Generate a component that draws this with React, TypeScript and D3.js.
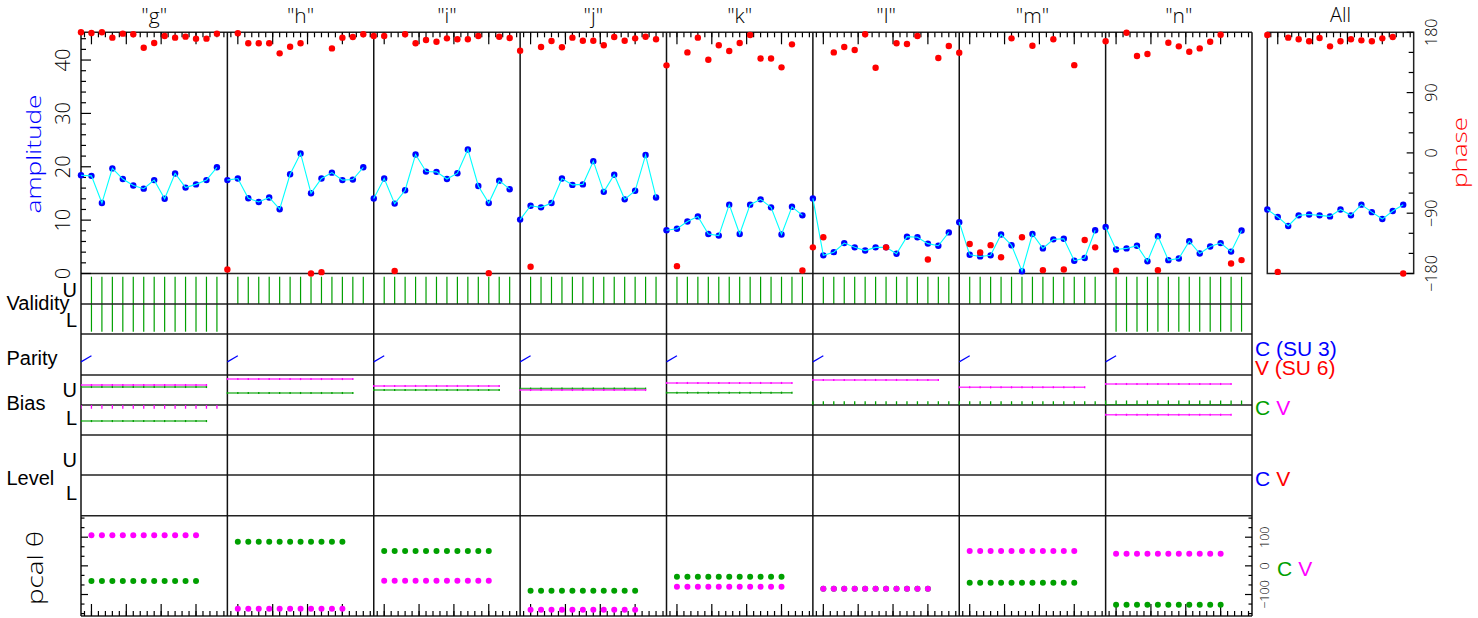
import React from "react";
import * as d3 from "d3";

// ---------- data ----------
const panelNames = ["g", "h", "i", "j", "k", "l", "m", "n"];
const sampleMinutes = [0, 3, 6, 9, 12, 15, 18, 21, 24, 27, 30, 33, 36, 39];
const panelStartMinute = 7;
const panelSpanMinutes = 42;

const ampG = [18.4, 18.3, 13.2, 19.7, 17.7, 16.5, 15.9, 17.5, 14.0, 18.75, 16.1, 16.7, 17.5, 19.9];
const ampH = [17.5, 17.8, 14.1, 13.4, 14.25, 12.05, 18.6, 22.5, 15.05, 17.8, 18.9, 17.5, 17.6, 19.9];
const ampI = [14.06, 17.8, 13.1, 15.6, 22.3, 19.1, 19.05, 17.7, 18.8, 23.25, 16.4, 13.2, 17.4, 15.8];
const ampJ = [10.1, 12.7, 12.4, 13.2, 17.8, 16.6, 16.7, 21.05, 15.3, 18.5, 13.9, 15.5, 22.2, 14.25];
const ampK = [8.1, 8.4, 9.75, 10.7, 7.4, 7.1, 12.9, 7.4, 12.9, 13.9, 12.4, 7.3, 12.5, 10.9];
const ampL = [14.06, 3.4, 4.0, 5.7, 4.9, 4.3, 4.9, 4.9, 3.7, 6.9, 6.8, 5.6, 5.2, 7.7];
const ampM = [9.6, 3.5, 3.2, 3.4, 7.3, 5.3, 0.43, 7.4, 4.7, 6.4, 6.5, 2.4, 2.9, 8.1];
const ampN = [8.7, 4.5, 4.7, 5.2, 2.3, 7.0, 2.5, 2.8, 6.05, 3.75, 5.06, 5.7, 4.1, 8.06];
const ampAll = [12.0, 10.6, 8.9, 10.9, 11.06, 10.9, 10.7, 12.0, 10.9, 12.9, 11.5, 10.2, 11.7, 12.9];

const phaseG = [180, 179, 180, 172, 178, 177, 157, 164, 174.5, 172, 173.5, 170.5, 170.5, 178];
const phaseH = [-174, 178.5, 163.6, 163.6, 163.6, 148.6, 158.5, 163.6, -180, -178, 156, 172, 173, 177];
const phaseI = [174.4, 174.4, -176.3, 177, 163.6, 168.6, 166, 171, 169.6, 169.6, 174.4, -179.5, 173.3, 171.5];
const phaseJ = [152.5, -170, 158, 167, 157.6, 172, 167.5, 167.5, 160.6, 173, 167.5, 171, 173.4, 169.6];
const phaseK = [130.7, -169, 150, 172, 139, 160.6, 152, 164, 176, 141, 141, 127.7, 162, -175.5];
const phaseL = [-141, -126, 150, 158, 153.6, 177, 127, -141, 163.6, 162.5, 174.5, -159, 141.6, 159.5];
const phaseM = [149.5, -136, -148.6, -137.7, -155.7, 171, -125.8, 160, -175, 169.6, -174, 131, -130, -141];
const phaseN = [166.6, -176, 179.4, 144.6, 147.6, -175, 164.5, 159, 151, 156, 166, 176.4, -165, -160];
const phaseAll = [176, -177.6, 172, 169.6, 166.6, 171.5, 159, 166.6, 169.6, 168, 166.6, 171, 173, -180];

const amplitudes = [ampG, ampH, ampI, ampJ, ampK, ampL, ampM, ampN];
const phases = [phaseG, phaseH, phaseI, phaseJ, phaseK, phaseL, phaseM, phaseN];

// validity flags (upper / lower sideband) per panel
const validUpper = [true, true, true, true, true, true, true, true];
const validLower = [true, false, false, false, false, false, false, true];

// parity of first two samples
const parityValues = [0.32, 0.47];

// bias (row units, +-1 = edge of row); |v|>=1 is saturated
const biasUpperV = [0.33, 0.73, 0.27, 0.0, 0.47, 0.67, 0.18, 0.4];
const biasUpperC = [0.2, -0.2, 0.0, 0.09, -0.18, -1.05, -1.05, -1.0];
const biasLowerC = [-0.07, NaN, NaN, NaN, NaN, NaN, NaN, NaN];
const biasLowerV = [1.05, NaN, NaN, NaN, NaN, NaN, NaN, 0.35];

// pcal phase (deg), samples 1..11
const pcalC = [-53, 84, 52, -87, -38, -80, -59, -136];
const pcalV = [107, -150, -52, -153, -73, -80, 52, 42];

const ampTicks = [0, 10, 20, 30, 40];
const phaseTicks = [-180, -90, 0, 90, 180];
const pcalTicks = [-100, 0, 100];

// ---------- layout ----------
const plotLeft = 81;
const plotRight = 1252;
const panelW = (plotRight - plotLeft) / panelNames.length;
const allLeft = 1267.3;
const allRight = allLeft + panelW;
const topY = 32.3;
const ampBottom = 273.5;
const valMid = 304;
const valBottom = 334;
const parBottom = 375;
const biasMid = 405;
const biasBottom = 435;
const levMid = 475;
const levBottom = 515.7;
const pcalBottom = 616;

const BLUE = "#0000ff";
const RED = "#ff0000";
const GREEN = "#00a000";
const MAG = "#ff00ff";
const CYAN = "#00ffff";
const THIN = "'Open Sans', 'DejaVu Sans', sans-serif";
const ARIAL = "'Liberation Sans', Arial, sans-serif";

export default function App() {
  const yAmp = d3.scaleLinear().domain([0, 45.2]).range([ampBottom, topY]);
  const yPhase = d3.scaleLinear().domain([-180, 180]).range([ampBottom, topY]);
  const yPcal = d3.scaleLinear().domain([-175, 175]).range([pcalBottom, levBottom]);
  const yPar = d3.scaleLinear().domain([0, 1]).range([parBottom, valBottom]);
  const yBiasU = d3.scaleLinear().domain([-1, 1]).range([biasMid, parBottom]);
  const yBiasL = d3.scaleLinear().domain([-1, 1]).range([biasBottom, biasMid]);

  const panelX = (p: number) =>
    d3
      .scaleLinear()
      .domain([panelStartMinute, panelStartMinute + panelSpanMinutes])
      .range([plotLeft + p * panelW, plotLeft + (p + 1) * panelW]);
  const allX = d3
    .scaleLinear()
    .domain([panelStartMinute, panelStartMinute + panelSpanMinutes])
    .range([allLeft, allRight]);

  const timeTicks = (x: d3.ScaleLinear<number, number>, y0: number, dir: number, key: string) => {
    const minor = x.ticks(20);
    const major = x.ticks(4);
    return (
      <g key={key}>
        {minor.map((t) => (
          <line key={"m" + t} x1={x(t)} x2={x(t)} y1={y0} y2={y0 + dir * 5} stroke="#000" strokeWidth={1.2} />
        ))}
        {major.map((t) => (
          <line key={"M" + t} x1={x(t)} x2={x(t)} y1={y0} y2={y0 + dir * 12} stroke="#000" strokeWidth={1.2} />
        ))}
      </g>
    );
  };

  const ampLine = (x: d3.ScaleLinear<number, number>, amps: number[]) =>
    d3
      .line<number>()
      .x((_, i) => x(panelStartMinute + sampleMinutes[i]))
      .y((d) => yAmp(d))(amps) || "";

  const dataPanel = (x: d3.ScaleLinear<number, number>, amps: number[], ph: number[], key: string) => (
    <g key={key}>
      {amps.map((a, i) => (
        <circle key={"b" + i} cx={x(panelStartMinute + sampleMinutes[i])} cy={yAmp(a)} r={3.2} fill={BLUE} />
      ))}
      <path d={ampLine(x, amps)} fill="none" stroke={CYAN} strokeWidth={1.1} />
      {ph.map((p, i) => (
        <circle key={"r" + i} cx={x(panelStartMinute + sampleMinutes[i])} cy={yPhase(p)} r={3.2} fill={RED} />
      ))}
    </g>
  );

  const biasSeries = (
    x: d3.ScaleLinear<number, number>,
    v: number,
    yS: d3.ScaleLinear<number, number>,
    color: string,
    key: string
  ) => {
    if (isNaN(v)) return null;
    const sat = Math.abs(v) >= 1;
    const lineSamples = sampleMinutes.slice(0, 13);
    const tickSamples = sat ? sampleMinutes : lineSamples;
    const err = sat ? 0.3 : 0.07;
    return (
      <g key={key}>
        <line
          x1={x(panelStartMinute + lineSamples[0])}
          x2={x(panelStartMinute + lineSamples[lineSamples.length - 1])}
          y1={yS(v)}
          y2={yS(v)}
          stroke={color}
          strokeWidth={1.6}
          strokeOpacity={0.75}
        />
        {tickSamples.map((s) => (
          <line
            key={s}
            x1={x(panelStartMinute + s)}
            x2={x(panelStartMinute + s)}
            y1={yS(v - err)}
            y2={yS(v + err)}
            stroke={color}
            strokeWidth={1.3}
          />
        ))}
      </g>
    );
  };

  const hLines = [topY, ampBottom, valMid, valBottom, parBottom, biasMid, biasBottom, levMid, levBottom, pcalBottom];
  const vLines = d3.range(panelNames.length + 1).map((k) => plotLeft + k * panelW);

  const ampMinor = d3.range(0, 46, 2);
  const phaseMinor = d3.range(-180, 181, 30);
  const pcalMinor = d3.range(-5, 6).map((k) => (k * 100) / 3);

  return (
    <svg
      width={1478}
      height={618}
      style={{ position: "absolute", left: 0, top: 0, background: "#fff" }}
      xmlns="http://www.w3.org/2000/svg"
    >
      <defs>
        <clipPath id="clipBU">
          <rect x={plotLeft} y={parBottom} width={plotRight - plotLeft} height={biasMid - parBottom} />
        </clipPath>
        <clipPath id="clipBL">
          <rect x={plotLeft} y={biasMid} width={plotRight - plotLeft} height={biasBottom - biasMid} />
        </clipPath>
      </defs>

      {/* validity lines */}
      {panelNames.map((_, p) => {
        const x = panelX(p);
        return (
          <g key={"val" + p}>
            {validUpper[p] &&
              sampleMinutes.slice(1).map((s) => (
                <line key={"u" + s} x1={x(panelStartMinute + s)} x2={x(panelStartMinute + s)} y1={276.7} y2={valMid}
                  stroke={GREEN} strokeWidth={1.2} />
              ))}
            {validLower[p] &&
              sampleMinutes.slice(1).map((s) => (
                <line key={"l" + s} x1={x(panelStartMinute + s)} x2={x(panelStartMinute + s)} y1={valMid} y2={331.7}
                  stroke={GREEN} strokeWidth={1.2} />
              ))}
          </g>
        );
      })}

      {/* grid */}
      {hLines.map((y, i) => (
        <line key={"h" + i} x1={plotLeft} x2={plotRight} y1={y} y2={y} stroke="#222" strokeWidth={1.5} />
      ))}
      {vLines.map((x, i) => (
        <line key={"v" + i} x1={x} x2={x} y1={topY} y2={pcalBottom} stroke="#111" strokeWidth={1.5} />
      ))}
      {/* All panel frame */}
      <rect x={allLeft} y={topY} width={allRight - allLeft} height={ampBottom - topY} fill="none" stroke="#222" strokeWidth={1.5} />

      {/* time ticks */}
      {panelNames.map((_, p) => timeTicks(panelX(p), topY, 1, "tt" + p))}
      {panelNames.map((_, p) => timeTicks(panelX(p), pcalBottom, -1, "tb" + p))}
      {timeTicks(allX, topY, 1, "ttall")}

      {/* amplitude axis ticks */}
      {ampMinor.map((v) => (
        <line key={"am" + v} x1={plotLeft} x2={plotLeft + (v % 10 === 0 ? 10 : 5)} y1={yAmp(v)} y2={yAmp(v)} stroke="#000" strokeWidth={1.2} />
      ))}
      {ampTicks.map((v) => (
        <text key={"at" + v} transform={`translate(70,${yAmp(v)}) rotate(-90)`} textAnchor="middle" fontFamily={THIN}
          fontWeight={300} fontSize={20} fill="#000">{v}</text>
      ))}
      {/* phase axis */}
      {phaseMinor.map((v) => (
        <line key={"pm" + v} x1={allRight} x2={allRight - (v % 90 === 0 ? 7 : 5)} y1={yPhase(v)} y2={yPhase(v)} stroke="#000" strokeWidth={1.2} />
      ))}
      {phaseTicks.map((v) => (
        <text key={"pt" + v} transform={`translate(1437,${yPhase(v)}) rotate(-90)`} textAnchor="middle" fontFamily={THIN}
          fontWeight={300} fontSize={16} fill="#000">{v < 0 ? "\u2212" + Math.abs(v) : v}</text>
      ))}

      {/* pcal axes */}
      {pcalMinor.map((v, i) => {
        const major = Math.abs(Math.round(v) % 100) === 0;
        return (
          <g key={"pcm" + i}>
            <line x1={plotLeft} x2={plotLeft + (major ? 7 : 3.5)} y1={yPcal(v)} y2={yPcal(v)} stroke="#000" strokeWidth={1.2} />
            <line x1={plotRight} x2={plotRight - (major ? 7 : 3.5)} y1={yPcal(v)} y2={yPcal(v)} stroke="#000" strokeWidth={1.2} />
          </g>
        );
      })}
      {pcalTicks.map((v) => (
        <text key={"pct" + v} transform={`translate(1269,${yPcal(v)}) rotate(-90)`} textAnchor="middle" fontFamily={THIN}
          fontWeight={300} fontSize={12.5} fill="#000">{v < 0 ? "\u2212" + Math.abs(v) : v}</text>
      ))}

      {/* parity */}
      {panelNames.map((_, p) => {
        const x = panelX(p);
        return (
          <line key={"par" + p} x1={x(panelStartMinute + sampleMinutes[0])} x2={x(panelStartMinute + sampleMinutes[1])}
            y1={yPar(parityValues[0])} y2={yPar(parityValues[1])} stroke={BLUE} strokeWidth={1.2} />
        );
      })}

      {/* bias */}
      <g clipPath="url(#clipBU)">
        {panelNames.map((_, p) => (
          <g key={"bu" + p}>
            {biasSeries(panelX(p), biasUpperC[p], yBiasU, GREEN, "c")}
            {biasSeries(panelX(p), biasUpperV[p], yBiasU, MAG, "v")}
          </g>
        ))}
      </g>
      <g clipPath="url(#clipBL)">
        {panelNames.map((_, p) => (
          <g key={"bl" + p}>
            {biasSeries(panelX(p), biasLowerC[p], yBiasL, GREEN, "c")}
            {biasSeries(panelX(p), biasLowerV[p], yBiasL, MAG, "v")}
          </g>
        ))}
      </g>

      {/* pcal dots */}
      {panelNames.map((_, p) => {
        const x = panelX(p);
        const s = sampleMinutes.slice(1, 12);
        return (
          <g key={"pc" + p}>
            {s.map((m) => (
              <circle key={"c" + m} cx={x(panelStartMinute + m)} cy={yPcal(pcalC[p])} r={3} fill={GREEN} />
            ))}
            {s.map((m) => (
              <circle key={"v" + m} cx={x(panelStartMinute + m)} cy={yPcal(pcalV[p])} r={3} fill={MAG} />
            ))}
          </g>
        );
      })}

      {/* amplitude/phase data */}
      {panelNames.map((_, p) => dataPanel(panelX(p), amplitudes[p], phases[p], "dp" + p))}
      {dataPanel(allX, ampAll, phaseAll, "dpall")}

      {/* titles */}
      {panelNames.map((n, p) => (
        <text key={"t" + n} x={plotLeft + (p + 0.5) * panelW} y={23} textAnchor="middle" fontFamily={THIN} fontWeight={300}
          fontSize={21} fill="#000">{`"${n}"`}</text>
      ))}
      <text x={(allLeft + allRight) / 2} y={21.5} textAnchor="middle" fontFamily={THIN} fontWeight={300} fontSize={20} fill="#000">All</text>

      {/* axis titles */}
      <text transform="translate(41,154) rotate(-90)" textAnchor="middle" fontFamily={THIN} fontWeight={300} fontSize={20}
        fill={BLUE} textLength={119} lengthAdjust="spacingAndGlyphs">amplitude</text>
      <text transform="translate(1467,152.5) rotate(-90)" textAnchor="middle" fontFamily={THIN} fontWeight={300} fontSize={20}
        fill={RED} textLength={71} lengthAdjust="spacingAndGlyphs">phase</text>
      <text transform="translate(43,568) rotate(-90)" textAnchor="middle" fontFamily={THIN} fontWeight={300} fontSize={22}
        fill="#000" textLength={74} lengthAdjust="spacingAndGlyphs">pcal θ</text>

      {/* row labels */}
      <g fontFamily={ARIAL} fontSize={20} fill="#000">
        <text x={6.5} y={310}>Validity</text>
        <text x={77} y={296.7} textAnchor="end">U</text>
        <text x={77} y={326.7} textAnchor="end">L</text>
        <text x={6.5} y={365}>Parity</text>
        <text x={6.5} y={410}>Bias</text>
        <text x={77} y={396.7} textAnchor="end">U</text>
        <text x={77} y={425} textAnchor="end">L</text>
        <text x={6.5} y={485}>Level</text>
        <text x={77} y={466.7} textAnchor="end">U</text>
        <text x={77} y={500} textAnchor="end">L</text>
      </g>

      {/* legends */}
      <g fontFamily={ARIAL} fontSize={21}>
        <text x={1255} y={356} fill={BLUE}>C (SU 3)</text>
        <text x={1255} y={375} fill={RED}>V (SU 6)</text>
        <text x={1255} y={415}>
          <tspan fill={GREEN}>C</tspan>
          <tspan fill={MAG} dx={6}>V</tspan>
        </text>
        <text x={1255} y={485.7}>
          <tspan fill={BLUE}>C</tspan>
          <tspan fill={RED} dx={6}>V</tspan>
        </text>
        <text x={1277} y={576}>
          <tspan fill={GREEN}>C</tspan>
          <tspan fill={MAG} dx={6}>V</tspan>
        </text>
      </g>
    </svg>
  );
}
